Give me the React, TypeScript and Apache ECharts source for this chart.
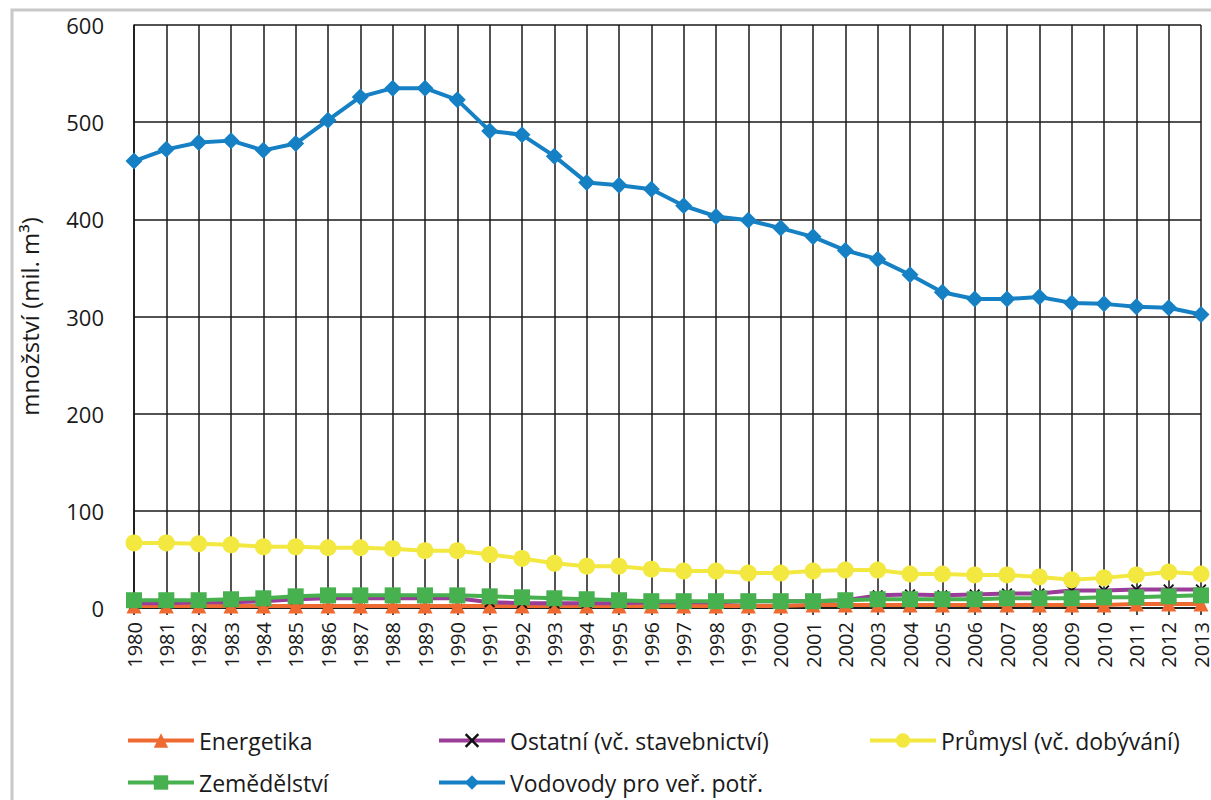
import React, { useEffect, useRef } from "react";
import * as echarts from "echarts";

const years = [
  "1980","1981","1982","1983","1984","1985","1986","1987","1988","1989",
  "1990","1991","1992","1993","1994","1995","1996","1997","1998","1999",
  "2000","2001","2002","2003","2004","2005","2006","2007","2008","2009",
  "2010","2011","2012","2013",
];

const energetika = [2,2,2,2,2,2,2,2,2,2,2,2,2,2,2,2,2,2,2,2,2,3,3,3,3,3,3,3,3,3,3,4,4,4];
const ostatni = [5,5,6,6,7,9,10,10,10,10,10,6,5,5,5,5,6,6,6,7,7,7,8,13,14,13,14,15,15,18,18,19,19,19];
const prumysl = [67,67,66,65,63,63,62,62,61,59,59,55,51,46,43,43,40,38,38,36,36,38,39,39,35,35,34,34,32,29,31,34,37,35];
const zemedelstvi = [8,8,8,9,10,12,13,13,13,13,13,12,11,10,9,8,7,7,7,7,7,7,8,9,9,9,9,10,10,10,11,11,12,13];
const vodovody = [460,472,479,481,471,478,502,526,535,535,523,491,487,465,438,435,431,414,403,399,391,382,368,359,343,325,318,318,320,314,313,310,309,302];

const yTicks = { min: 0, max: 600, interval: 100 };

const FONT = "'Open Sans', 'Noto Sans', sans-serif";
const crossPath =
  "path://M0,1.2 L1.2,0 L5,3.8 L8.8,0 L10,1.2 L6.2,5 L10,8.8 L8.8,10 L5,6.2 L1.2,10 L0,8.8 L3.8,5 Z";

export default function App() {
  const ref = useRef<HTMLDivElement>(null);
  useEffect(() => {
    if (!ref.current) return;
    const chart = echarts.init(ref.current, undefined, { renderer: "svg" });
    const mk = (
      name: string,
      data: number[],
      color: string,
      symbol: string,
      symbolSize: number,
      symbolColor?: string
    ) => ({
      name,
      type: "line",
      data,
      symbol,
      symbolSize,
      showAllSymbol: true,
      clip: false,
      lineStyle: { color, width: 4 },
      itemStyle: { color: symbolColor || color, borderWidth: 0 },
      emphasis: { disabled: true },
    });
    const legendBase = {
      itemWidth: 66,
      itemHeight: 18,
      lineStyle: { width: 4 },
      textStyle: { fontSize: 23, color: "#1a1a1a", fontFamily: FONT },
      selectedMode: false,
    };
    chart.setOption({
      animation: false,
      backgroundColor: "#fff",
      graphic: [
        {
          type: "rect",
          shape: { x: 12, y: 10, width: 1220, height: 820 },
          style: { fill: "none", stroke: "#c8c8c8", lineWidth: 3 },
          silent: true,
        },
      ],
      grid: { left: 134, right: 5, top: 25, bottom: 192 },
      legend: [
        { ...legendBase, left: 121, top: 724, data: ["Energetika"] },
        { ...legendBase, left: 432, top: 724, data: ["Ostatní (vč. stavebnictví)"] },
        { ...legendBase, left: 863, top: 724, data: ["Průmysl (vč. dobývání)"] },
        { ...legendBase, left: 121, top: 766, data: ["Zemědělství"] },
        { ...legendBase, left: 432, top: 766, data: ["Vodovody pro veř. potř."] },
      ],
      xAxis: {
        type: "category",
        data: years,
        boundaryGap: false,
        axisLine: { lineStyle: { color: "#111", width: 1.5 } },
        axisTick: { show: true, length: 7, lineStyle: { color: "#111", width: 1.5 } },
        splitLine: { show: true, lineStyle: { color: "#1a1a1a", width: 1.5 } },
        axisLabel: {
          rotate: 90,
          fontSize: 20,
          color: "#1a1a1a",
          fontFamily: FONT,
          margin: 14,
        },
      },
      yAxis: {
        type: "value",
        min: yTicks.min,
        max: yTicks.max,
        interval: yTicks.interval,
        name: "množství (mil. m³)",
        nameLocation: "middle",
        nameGap: 93,
        nameRotate: 90,
        nameTextStyle: { fontSize: 24, color: "#1a1a1a", fontFamily: FONT },
        axisLine: { show: true, lineStyle: { color: "#111", width: 1.5 } },
        axisTick: { show: false },
        splitLine: { show: true, lineStyle: { color: "#1a1a1a", width: 1.5 } },
        axisLabel: { fontSize: 22, color: "#1a1a1a", fontFamily: FONT, margin: 30 },
      },
      series: [
        mk("Energetika", energetika, "#ef6a30", "triangle", 15),
        mk("Ostatní (vč. stavebnictví)", ostatni, "#9a3d98", crossPath, 11, "#111"),
        mk("Průmysl (vč. dobývání)", prumysl, "#f3e840", "circle", 17),
        mk("Zemědělství", zemedelstvi, "#47b04f", "rect", 16),
        mk("Vodovody pro veř. potř.", vodovody, "#1680c4", "diamond", 17),
      ],
    });
    return () => chart.dispose();
  }, []);
  return (
    <div
      ref={ref}
      style={{ position: "absolute", left: 0, top: 0, width: 1211, height: 800 }}
    />
  );
}
